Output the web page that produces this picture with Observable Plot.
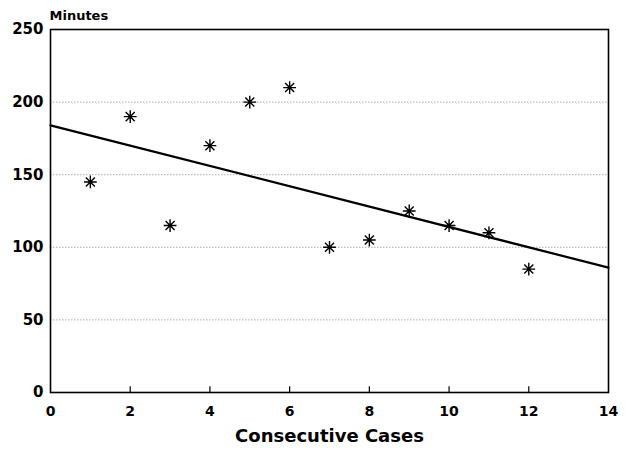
<!DOCTYPE html>
<html><head><meta charset="utf-8">
<script src="https://cdn.jsdelivr.net/npm/d3@7"></script>
<script src="https://cdn.jsdelivr.net/npm/@observablehq/plot@0.6"></script>
<style>body{margin:0;background:#fff}</style>
</head><body><div id="chart"></div>
<script>
const caseNumbers = [1, 2, 3, 4, 5, 6, 7, 8, 9, 10, 11, 12];
const minutes = [145, 190, 115, 170, 200, 210, 100, 105, 125, 115, 110, 85];
const fitX = [0, 14];
const fitY = [184, 86];
const xTicks = [0, 2, 4, 6, 8, 10, 12, 14];
const yTicks = [0, 50, 100, 150, 200, 250];
const gridY = [50, 100, 150, 200];

const points = caseNumbers.map((c, i) => ({c, m: minutes[i]}));
const fit = fitX.map((x, i) => ({x, y: fitY[i]}));

const asterisk8 = {
  draw(context, size) {
    const r = Math.sqrt(size) * 0.6;
    const d = r * Math.SQRT1_2;
    context.moveTo(0, -r); context.lineTo(0, r);
    context.moveTo(-r, 0); context.lineTo(r, 0);
    context.moveTo(-d, -d); context.lineTo(d, d);
    context.moveTo(-d, d); context.lineTo(d, -d);
  }
};

const font = "'DejaVu Sans', sans-serif";

const chart = Plot.plot({
  width: 626,
  height: 451,
  marginLeft: 50,
  marginRight: 18,
  marginTop: 29,
  marginBottom: 59,
  style: {fontFamily: font, fontWeight: "bold", color: "#000", background: "#fff"},
  x: {domain: [0, 14], label: null},
  y: {domain: [0, 250], label: null},
  marks: [
    Plot.ruleY(gridY, {stroke: "#999", strokeWidth: 1, strokeDasharray: "1.5,1.5", strokeOpacity: 0.8}),
    Plot.ruleX(xTicks.slice(1, -1), {x: d => d, y1: 0, y2: 4, stroke: "#000", strokeWidth: 1.2}),
    Plot.frame({stroke: "#000", strokeWidth: 1.6}),
    Plot.axisX({ticks: xTicks, tickSize: 0, tickPadding: 14, fontSize: 14, fontWeight: "bold", label: null}),
    Plot.axisY({ticks: yTicks, tickSize: 0, tickPadding: 7, fontSize: 15, fontWeight: "bold", label: null}),
    Plot.line(fit, {x: "x", y: "y", stroke: "#000", strokeWidth: 2.2}),
    Plot.dot(points, {x: "c", y: "m", symbol: asterisk8, r: 6, stroke: "#000", strokeWidth: 1.4, fill: "none"}),
    Plot.text(["Minutes"], {frameAnchor: "top-left", lineAnchor: "middle", dx: -1, dy: -14, text: d => d, fontSize: 13, fontWeight: "bold", textAnchor: "start", fill: "#000"}),
    Plot.text(["Consecutive Cases"], {frameAnchor: "bottom", lineAnchor: "middle", dy: 44, text: d => d, fontSize: 18, fontWeight: "bold", fill: "#000"})
  ]
});
document.getElementById("chart").append(chart);
</script>
</body></html>
